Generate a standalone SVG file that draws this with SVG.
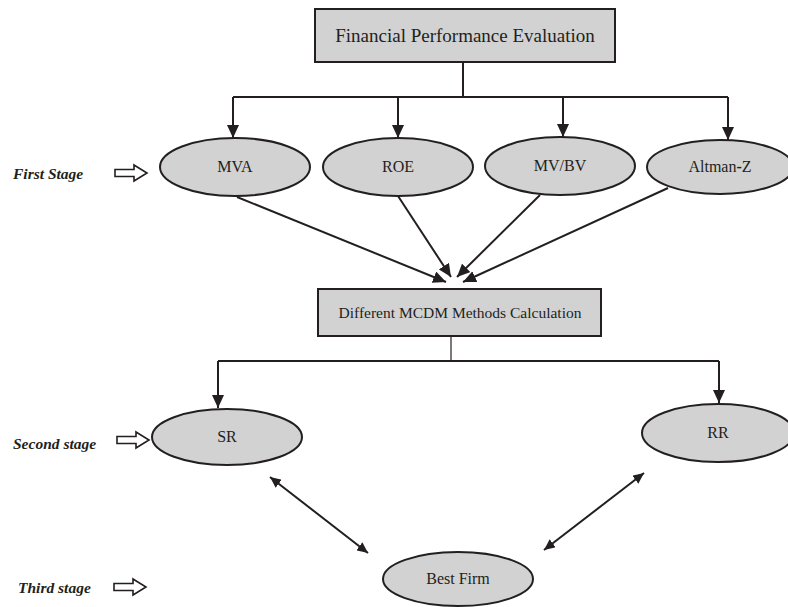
<svg xmlns="http://www.w3.org/2000/svg" width="788" height="607" viewBox="0 0 788 607">
<style>
.box{fill:#d2d2d2;stroke:#231f20;stroke-width:2}
.ell{fill:#d2d2d2;stroke:#231f20;stroke-width:2}
.lbl{font-family:"Liberation Serif","Times New Roman",serif;fill:#231f20;text-anchor:middle}
.stage{font-family:"Liberation Serif","Times New Roman",serif;font-weight:bold;font-style:italic;font-size:15.5px;fill:#231f20}
.ln{fill:none;stroke:#231f20;stroke-width:2}
.thin{fill:none;stroke:#231f20;stroke-width:1.2}
.hollow{fill:#fff;stroke:#231f20;stroke-width:1.6}
</style>
<defs>
<marker id="ah" markerUnits="userSpaceOnUse" markerWidth="14" markerHeight="12" refX="13" refY="6" orient="auto">
<path d="M0,0 L13,6 L0,12 z" fill="#231f20"/>
</marker>
<marker id="ahs" markerUnits="userSpaceOnUse" markerWidth="12" markerHeight="10" refX="11" refY="5" orient="auto-start-reverse">
<path d="M0,0 L11,5 L0,10 z" fill="#231f20"/>
</marker>
<path id="harrow" d="M0,-3.5 H19 V-8 L32,0 L19,8 V3.5 H0 z"/>
</defs>

<g id="connectors">
<path class="ln" d="M463,62 V97"/>
<path class="ln" d="M233,97 H728"/>
<path class="ln" d="M233,97 V138" marker-end="url(#ah)"/>
<path class="ln" d="M398,97 V138" marker-end="url(#ah)"/>
<path class="ln" d="M563,97 V137" marker-end="url(#ah)"/>
<path class="ln" d="M728,97 V140" marker-end="url(#ah)"/>
<path class="ln" d="M237,197 L446,282" marker-end="url(#ah)"/>
<path class="ln" d="M398,196 L451,277" marker-end="url(#ah)"/>
<path class="ln" d="M540,195 L457,277" marker-end="url(#ah)"/>
<path class="ln" d="M668,188 L463,282" marker-end="url(#ah)"/>
<path class="thin" d="M451,336 V361"/>
<path class="ln" d="M218,361 H719"/>
<path class="ln" d="M218,361 V408" marker-end="url(#ah)"/>
<path class="ln" d="M719,361 V403" marker-end="url(#ah)"/>
<path class="ln" d="M270,477 L368,553" marker-start="url(#ahs)" marker-end="url(#ahs)"/>
<path class="ln" d="M644,473 L544,550" marker-start="url(#ahs)" marker-end="url(#ahs)"/>
</g>

<g id="stages">
<text class="stage" x="13" y="179">First Stage</text>
<use href="#harrow" class="hollow" x="115" y="173"/>
<text class="stage" x="13" y="449">Second stage</text>
<use href="#harrow" class="hollow" x="117" y="440"/>
<text class="stage" x="18" y="593">Third stage</text>
<use href="#harrow" class="hollow" x="114" y="587"/>
</g>

<g id="fpe">
<rect class="box" x="315" y="9" width="300" height="53"/>
<text class="lbl" x="465" y="42" font-size="19">Financial Performance Evaluation</text>
</g>
<g id="mva">
<ellipse class="ell" cx="235" cy="167" rx="75" ry="29"/>
<text class="lbl" x="235" y="172" font-size="16">MVA</text>
</g>
<g id="roe">
<ellipse class="ell" cx="398" cy="167" rx="75" ry="29"/>
<text class="lbl" x="398" y="172" font-size="16">ROE</text>
</g>
<g id="mvbv">
<ellipse class="ell" cx="560" cy="166" rx="75" ry="29"/>
<text class="lbl" x="560" y="171" font-size="16">MV/BV</text>
</g>
<g id="altman">
<ellipse class="ell" cx="720" cy="167" rx="73" ry="27"/>
<text class="lbl" x="720" y="172" font-size="16">Altman<tspan font-weight="bold">-</tspan>Z</text>
</g>
<g id="mcdm">
<rect class="box" x="318" y="289" width="283" height="47"/>
<text class="lbl" x="460" y="318" font-size="15.5">Different MCDM Methods Calculation</text>
</g>
<g id="sr">
<ellipse class="ell" cx="227" cy="437" rx="75" ry="28"/>
<text class="lbl" x="227" y="442" font-size="16">SR</text>
</g>
<g id="rr">
<ellipse class="ell" cx="718" cy="433" rx="76" ry="29"/>
<text class="lbl" x="718" y="438" font-size="16">RR</text>
</g>
<g id="best">
<ellipse class="ell" cx="458" cy="579" rx="75" ry="27"/>
<text class="lbl" x="458" y="584" font-size="16">Best Firm</text>
</g>
</svg>
